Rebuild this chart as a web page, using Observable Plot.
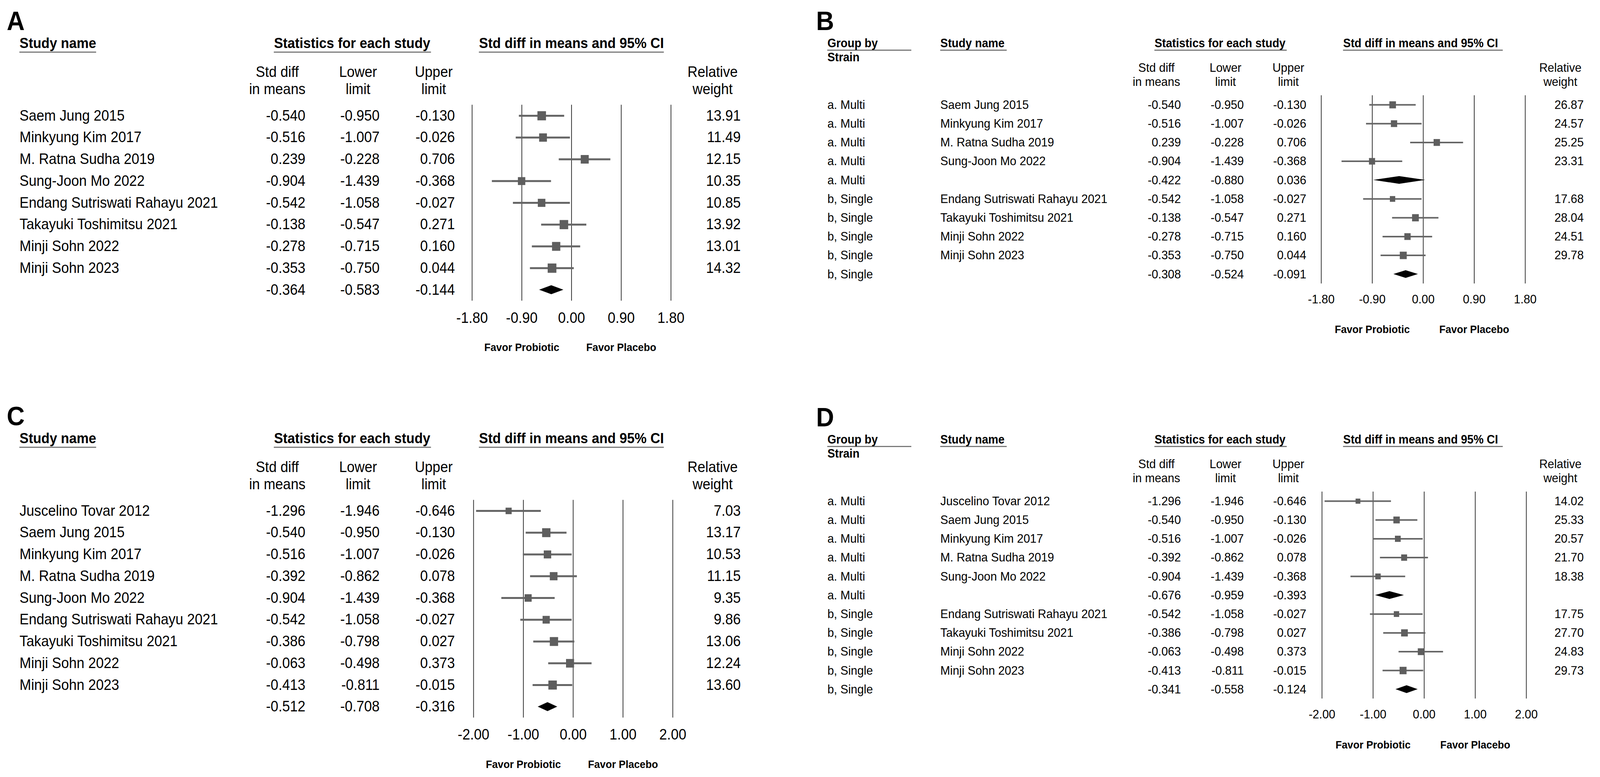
<!DOCTYPE html>
<html><head><meta charset="utf-8">
<script src="https://cdn.jsdelivr.net/npm/d3@7"></script>
<script src="https://cdn.jsdelivr.net/npm/@observablehq/plot@0.6"></script>
<style>
html,body{margin:0;padding:0;background:#fff;overflow:hidden;}
#fig{position:absolute;left:0;top:0;width:4377px;height:1990px;background:#fff;overflow:hidden;transform-origin:0 0;}
#fig > div{position:absolute;}
#fig svg{max-width:none !important;}
</style></head><body><div id="fig"></div>
<script>
// ---------- DATA ----------
const ticksAB = [-1.8, -0.9, 0, 0.9, 1.8];
const ticksCD = [-2, -1, 0, 1, 2];
const favorLabels = ["Favor Probiotic", "Favor Placebo"];

// Panel A
const studyA = ["Saem Jung 2015","Minkyung Kim 2017","M. Ratna Sudha 2019","Sung-Joon Mo 2022","Endang Sutriswati Rahayu 2021","Takayuki Toshimitsu 2021","Minji Sohn 2022","Minji Sohn 2023",""];
const smdA   = [-0.540,-0.516, 0.239,-0.904,-0.542,-0.138,-0.278,-0.353,-0.364];
const lowerA = [-0.950,-1.007,-0.228,-1.439,-1.058,-0.547,-0.715,-0.750,-0.583];
const upperA = [-0.130,-0.026, 0.706,-0.368,-0.027, 0.271, 0.160, 0.044,-0.144];
const weightA= [13.91,11.49,12.15,10.35,10.85,13.92,13.01,14.32,null];

// Panel B
const groupB = ["a. Multi","a. Multi","a. Multi","a. Multi","a. Multi","b, Single","b, Single","b, Single","b, Single","b, Single"];
const studyB = ["Saem Jung 2015","Minkyung Kim 2017","M. Ratna Sudha 2019","Sung-Joon Mo 2022","","Endang Sutriswati Rahayu 2021","Takayuki Toshimitsu 2021","Minji Sohn 2022","Minji Sohn 2023",""];
const smdB   = [-0.540,-0.516, 0.239,-0.904,-0.422,-0.542,-0.138,-0.278,-0.353,-0.308];
const lowerB = [-0.950,-1.007,-0.228,-1.439,-0.880,-1.058,-0.547,-0.715,-0.750,-0.524];
const upperB = [-0.130,-0.026, 0.706,-0.368, 0.036,-0.027, 0.271, 0.160, 0.044,-0.091];
const weightB= [26.87,24.57,25.25,23.31,null,17.68,28.04,24.51,29.78,null];

// Panel C
const studyC = ["Juscelino Tovar 2012","Saem Jung 2015","Minkyung Kim 2017","M. Ratna Sudha 2019","Sung-Joon Mo 2022","Endang Sutriswati Rahayu 2021","Takayuki Toshimitsu 2021","Minji Sohn 2022","Minji Sohn 2023",""];
const smdC   = [-1.296,-0.540,-0.516,-0.392,-0.904,-0.542,-0.386,-0.063,-0.413,-0.512];
const lowerC = [-1.946,-0.950,-1.007,-0.862,-1.439,-1.058,-0.798,-0.498,-0.811,-0.708];
const upperC = [-0.646,-0.130,-0.026, 0.078,-0.368,-0.027, 0.027, 0.373,-0.015,-0.316];
const weightC= [7.03,13.17,10.53,11.15,9.35,9.86,13.06,12.24,13.60,null];

// Panel D
const groupD = ["a. Multi","a. Multi","a. Multi","a. Multi","a. Multi","a. Multi","b, Single","b, Single","b, Single","b, Single","b, Single"];
const studyD = ["Juscelino Tovar 2012","Saem Jung 2015","Minkyung Kim 2017","M. Ratna Sudha 2019","Sung-Joon Mo 2022","","Endang Sutriswati Rahayu 2021","Takayuki Toshimitsu 2021","Minji Sohn 2022","Minji Sohn 2023",""];
const smdD   = [-1.296,-0.540,-0.516,-0.392,-0.904,-0.676,-0.542,-0.386,-0.063,-0.413,-0.341];
const lowerD = [-1.946,-0.950,-1.007,-0.862,-1.439,-0.959,-1.058,-0.798,-0.498,-0.811,-0.558];
const upperD = [-0.646,-0.130,-0.026, 0.078,-0.368,-0.393,-0.027, 0.027, 0.373,-0.015,-0.124];
const weightD= [14.02,25.33,20.57,21.70,18.38,null,17.75,27.70,24.83,29.73,null];

// ---------- LAYOUT ----------
const FONT = "'Liberation Sans', Arial, Helvetica, sans-serif";
const layoutAC = {
  fs: 38, hfs: 37, row0: 296, pitch: 55.75, letterX: 18, letterY: 55, hdrY: 111,
  studyX: 53, smdX: 835, lowerX: 1038, upperX: 1244, weightX: 2026,
  statX: 749, ciX: 1310, ulY: 133, ul: [[53,263],[749,1179],[1310,1816]],
  colY: 204, lh: 1.16, smdHX: 758, lowerHX: 979, upperHX: 1186, weightHX: 1949,
  tickDy: 44, favorDy: 120, favorFs: 28, rmax: 35.5, ciW: 5
};
const layoutBD = {
  fs: 32, hfs: 31, row0: 268, pitch: 48.2, letterX: 32, letterY: 55, hdrY: 111, strainY: 147,
  groupX: 63, studyX: 372, smdX: 1030, lowerX: 1202, upperX: 1373, weightX: 2132,
  statX: 958, ciX: 1474, ulY: 128, ul: [[63,293],[372,554],[958,1320],[1474,1911]],
  colY: 190, lh: 1.13, smdHX: 963, lowerHX: 1152, upperHX: 1324, weightHX: 2068,
  tickDy: 40, favorDy: 118, favorFs: 28, rmax: 19.7, ciW: 4
};

function forest(cfg) {
  const L = cfg.layout;
  const n = cfg.study.length;
  const rows = cfg.study.map((s, i) => ({
    i, study: s, group: cfg.group ? cfg.group[i] : "",
    smd: cfg.smd[i], lower: cfg.lower[i], upper: cfg.upper[i], weight: cfg.weight[i]
  }));
  const studies = rows.filter(d => d.weight != null);
  const summaries = rows.filter(d => d.weight == null);
  const H = 0.205;
  const diamonds = summaries.flatMap(d => [
    {id: d.i, x: d.lower, y1: d.i, y2: d.i},
    {id: d.i, x: d.smd, y1: d.i - H, y2: d.i + H},
    {id: d.i, x: d.upper, y1: d.i, y2: d.i}
  ]);
  const xInv = d3.scaleLinear(cfg.domain, cfg.range).invert;
  const yInv = d3.scaleLinear([0, n - 1], [L.row0, L.row0 + (n - 1) * L.pitch]).invert;
  const fs = L.fs;
  const hdr = (text, dx, dy, anchor, extra) => Plot.text([text], {
    frameAnchor: "top-left", dx, dy, text: d => d, textAnchor: anchor || "start",
    lineAnchor: "middle", fontWeight: "bold", fontSize: L.hfs, ...(extra || {})
  });
  const col = (text, dx) => Plot.text([text], {
    frameAnchor: "top-left", dx, dy: L.colY, text: d => d, textAnchor: "middle",
    lineAnchor: "middle", fontSize: fs, lineHeight: L.lh
  });
  const cell = (data, key, dx, anchor, fmt) => Plot.text(data, {
    y: "i", frameAnchor: "left", dx, textAnchor: anchor, fontSize: fs,
    text: fmt ? (d => fmt(d[key])) : key
  });
  const f3 = v => v.toFixed(3), f2 = v => v.toFixed(2);
  const ticks = cfg.ticks;

  const marks = [
    Plot.ruleX(ticks, {x: d => d, y1: () => -0.5, y2: () => n - 0.5, stroke: "#2a2a2a", strokeWidth: 2}),
    Plot.ruleY(studies, {y: "i", x1: "lower", x2: "upper", stroke: "#666", strokeWidth: L.ciW}),
    Plot.dot(studies, {x: "smd", y: "i", r: "weight", symbol: "square", fill: "#5e5e5e"}),
    Plot.areaY(diamonds, {x: "x", y1: "y1", y2: "y2", z: "id", fill: "#000"}),
    Plot.text(ticks, {x: d => d, y: () => n - 0.5, dy: L.tickDy, text: d => d.toFixed(2), fontSize: fs}),
    Plot.text(favorLabels, {x: (d, i) => ticks[i === 0 ? 1 : 3], y: () => n - 0.5, dy: L.favorDy,
      text: d => d, fontWeight: "bold", fontSize: L.favorFs}),
    Plot.ruleY(L.ul, {y: () => yInv(L.ulY), x1: d => xInv(d[0]), x2: d => xInv(d[1]), stroke: "#7a7a7a", strokeWidth: 3}),
    hdr(cfg.letter, L.letterX, L.letterY, "start", {fontSize: 68}),
    hdr("Study name", L.studyX, L.hdrY),
    hdr("Statistics for each study", L.statX, L.hdrY),
    hdr("Std diff in means and 95% CI", L.ciX, L.hdrY),
    col("Std diff\nin means", L.smdHX),
    col("Lower\nlimit", L.lowerHX),
    col("Upper\nlimit", L.upperHX),
    col("Relative\nweight", L.weightHX),
    cell(rows, "study", L.studyX, "start"),
    cell(rows, "smd", L.smdX, "end", f3),
    cell(rows, "lower", L.lowerX, "end", f3),
    cell(rows, "upper", L.upperX, "end", f3),
    cell(studies, "weight", L.weightX, "end", f2)
  ];
  if (cfg.group) {
    marks.push(hdr("Group by", L.groupX, L.hdrY));
    marks.push(hdr("Strain", L.groupX, L.strainY));
    marks.push(cell(rows, "group", L.groupX, "start"));
  }
  return Plot.plot({
    width: cfg.width, height: cfg.height, margin: 0,
    x: {domain: cfg.domain, range: cfg.range, axis: null},
    y: {domain: [0, n - 1], range: [L.row0, L.row0 + (n - 1) * L.pitch], axis: null},
    r: {type: "sqrt", domain: [0, 100], range: [0, L.rmax]},
    style: {fontFamily: FONT, fontSize: fs + "px", color: "#000", background: "#fff", overflow: "visible", maxWidth: "none"},
    marks
  });
}

const panels = [
  {letter: "A", left: 0, top: 0, width: 2200, height: 985, layout: layoutAC, domain: [-1.8, 1.8], range: [1291, 1835], ticks: ticksAB,
   study: studyA, smd: smdA, lower: lowerA, upper: upperA, weight: weightA},
  {letter: "B", left: 2200, top: 0, width: 2177, height: 1000, layout: layoutBD, domain: [-1.8, 1.8], range: [1414, 1972], ticks: ticksAB,
   group: groupB, study: studyB, smd: smdB, lower: lowerB, upper: upperB, weight: weightB},
  {letter: "C", left: 0, top: 1012, width: 2200, height: 978, layout: layoutAC, domain: [-2, 2], range: [1295, 1840], ticks: ticksCD,
   study: studyC, smd: smdC, lower: lowerC, upper: upperC, weight: weightC},
  {letter: "D", left: 2200, top: 1015, width: 2177, height: 975, layout: layoutBD, domain: [-2, 2], range: [1416, 1975], ticks: ticksCD,
   group: groupD, study: studyD, smd: smdD, lower: lowerD, upper: upperD, weight: weightD}
];

const fig = document.getElementById("fig");
for (const p of panels) {
  const div = document.createElement("div");
  div.style.left = p.left + "px";
  div.style.top = p.top + "px";
  div.style.width = p.width + "px";
  div.style.height = p.height + "px";
  div.appendChild(forest(p));
  fig.appendChild(div);
}
// Fit the 4377x1990 figure into the actual viewport
function fit() {
  const sx = (window.innerWidth || 4377) / 4377;
  const sy = (window.innerHeight || 1990) / 1990;
  fig.style.transform = `scale(${sx}, ${sy})`;
}
fit();
window.addEventListener("resize", fit);
</script></body></html>
